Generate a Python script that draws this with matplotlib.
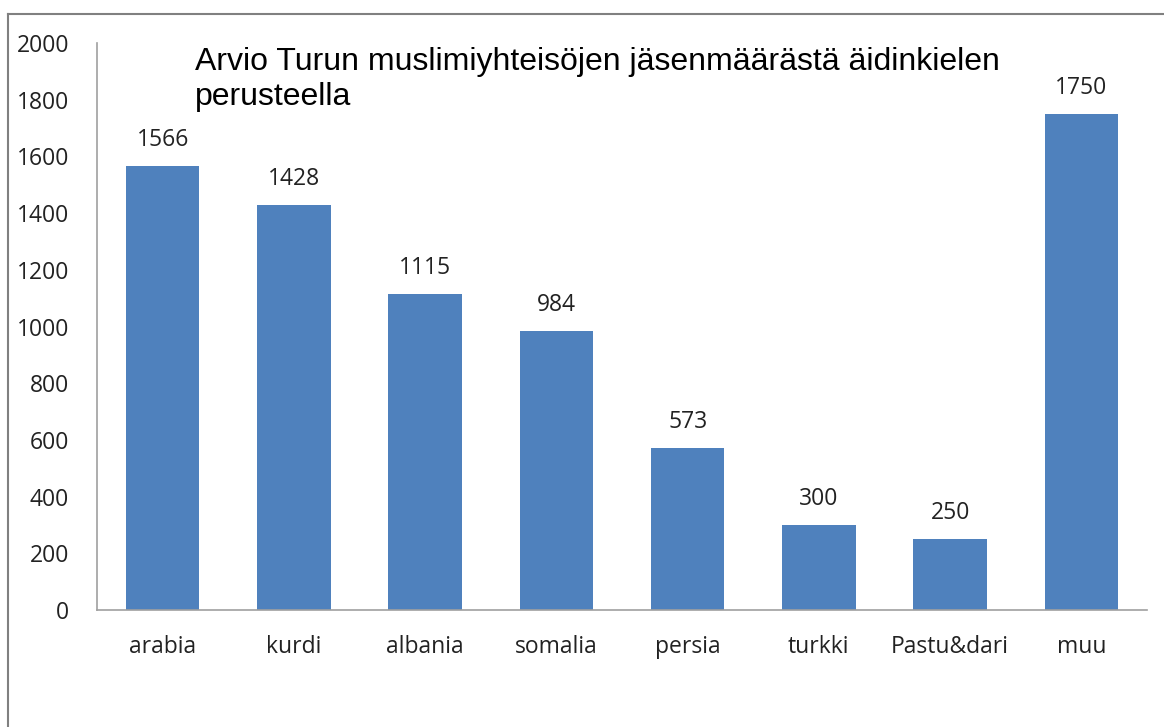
import matplotlib
matplotlib.use("Agg")
import matplotlib.pyplot as plt
from matplotlib.lines import Line2D

categories = ["arabia", "kurdi", "albania", "somalia", "persia", "turkki",
              "Pastu&dari", "muu"]
values = [1566, 1428, 1115, 984, 573, 300, 250, 1750]
yticks = [0, 200, 400, 600, 800, 1000, 1200, 1400, 1600, 1800, 2000]
title = "Arvio Turun muslimiyhteisöjen jäsenmäärästä äidinkielen\nperusteella"

BLUE = "#4F81BD"
LBL = ["Open Sans", "DejaVu Sans"]
W, H = 1164, 727

fig = plt.figure(figsize=(W / 100, H / 100), dpi=100)
ax = fig.add_axes([97 / W, 1 - 610 / H, (1147 - 97) / W, (610 - 43) / H])

x = range(len(categories))
ax.bar(x, values, width=0.56, color=BLUE, zorder=2)
for xi, v in zip(x, values):
    ax.annotate(f"{v}", (xi, v), xytext=(0, 10), textcoords="offset points",
                ha="center", va="bottom", fontsize=16.5, family=LBL,
                color="#222222")

ax.set_xlim(-0.5, len(categories) - 0.5)
ax.set_ylim(0, 2000)
ax.set_yticks(yticks)
ax.set_xticks(list(x))
ax.set_xticklabels(categories)
ax.tick_params(axis="both", length=0, labelsize=16.5, colors="#222222")
ax.tick_params(axis="x", pad=18)
ax.tick_params(axis="y", pad=20)
for lab in ax.get_xticklabels() + ax.get_yticklabels():
    lab.set_family(LBL)
for s in ("top", "right"):
    ax.spines[s].set_visible(False)
for s in ("left", "bottom"):
    ax.spines[s].set_color("#A0A0A0")
    ax.spines[s].set_linewidth(1.2)

fig.text(195 / W, 1 - 47 / H, title, ha="left", va="top", fontsize=23,
         family="Liberation Sans", linespacing=1.2)

# outer chart frame (cut off at right and bottom)
fig.add_artist(Line2D([8 / W, 8 / W], [0, 1 - 14 / H], transform=fig.transFigure,
                      color="#808080", lw=1.5))
fig.add_artist(Line2D([8 / W, 1], [1 - 14 / H, 1 - 14 / H], transform=fig.transFigure,
                      color="#808080", lw=1.5))

fig.savefig("out.png", dpi=100)
